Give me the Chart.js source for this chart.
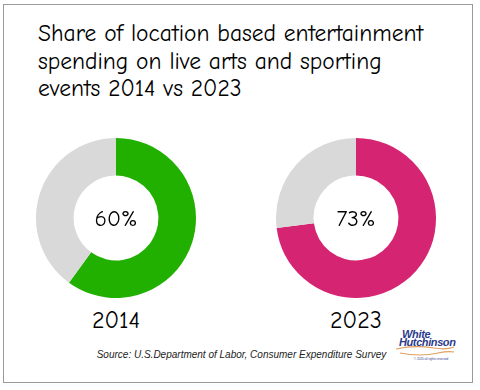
<!DOCTYPE html>
<html>
<head>
<meta charset="utf-8">
<script src="https://cdn.jsdelivr.net/npm/chart.js@4/dist/chart.umd.min.js"></script>
<style>
  html, body { margin: 0; padding: 0; background: #fff; }
  #wrap { position: relative; width: 480px; height: 390px; overflow: hidden; background: #fff; }
  #frame { position: absolute; left: 3px; top: 4px; width: 470px; height: 379px; border: 1.5px solid #9a9a9a; box-sizing: border-box; }
  .hand { font-family: "Comic Sans MS", "Comic Neue", "Lato", sans-serif; color: #000; font-weight: 500; }
  #title { position: absolute; left: 38px; top: 20px; font-size: 23.5px; line-height: 27.5px; white-space: nowrap; }
  .year { position: absolute; top: 306px; width: 160px; text-align: center; font-size: 24px; }
  canvas { position: absolute; }
  #source { position: absolute; left: 0; width: 483px; text-align: center; top: 349px; font-family: "Liberation Sans", Arial, sans-serif; font-style: italic; font-size: 10px; color: #222; }
  #logo { position: absolute; left: 394px; top: 329px; width: 64px; color: #2b3a8c; font-family: "Liberation Sans Narrow", "Liberation Sans", sans-serif; font-style: italic; font-weight: bold; }
  #logo .l1 { position: absolute; left: 8px; top: 0; font-size: 11px; line-height: 10px; letter-spacing: -0.3px; }
  #logo .l2 { position: absolute; left: 5px; top: 8px; font-size: 11px; line-height: 10px; letter-spacing: -0.4px; }
  #logo svg { position: absolute; left: 0; top: 14px; }
  #logo .l4 { position: absolute; left: 20px; top: 28px; font-family: "Liberation Sans", sans-serif; font-style: normal; font-weight: normal; font-size: 3px; color: #2b3a8c; line-height: 4px; white-space: nowrap; }
</style>
</head>
<body>
<div id="wrap">
  <div id="frame"></div>
  <div id="title" class="hand"></div>
  <canvas id="c1" width="160" height="160" style="left:36px; top:138px;"></canvas>
  <canvas id="c2" width="160" height="160" style="left:276px; top:138px;"></canvas>
  <div id="y1" class="year hand" style="left:36px;"></div>
  <div id="y2" class="year hand" style="left:276px;"></div>
  <div id="source"></div>
  <div id="logo">
    <div class="l1">White</div>
    <div class="l2">Hutchinson</div>
    <svg width="64" height="16" viewBox="0 0 64 16"><path d="M2 6 Q20 2 40 5 Q52 7 60 4" fill="none" stroke="#e0a060" stroke-width="1.2"/><path d="M6 10 Q26 14 44 10 Q54 8 60 9" fill="none" stroke="#e0a060" stroke-width="1.2"/></svg>
    <div class="l4">© 2025 all rights reserved</div>
  </div>
</div>
<script>
const titleLines = ["Share of location based entertainment", "spending on live arts and sporting", "events 2014 vs 2023"];
const years = ["2014", "2023"];
const segmentLabels = ["Live arts and sporting events", "Other location based entertainment"];
const share2014 = [60, 40];
const share2023 = [73, 27];
const centerLabels = ["60%", "73%"];
const sourceText = "Source: U.S.Department of Labor, Consumer Expenditure Survey";

document.getElementById('title').innerHTML = titleLines.join('<br>');
document.getElementById('y1').textContent = years[0];
document.getElementById('y2').textContent = years[1];
document.getElementById('source').textContent = sourceText;

const centerText = {
  id: 'centerText',
  afterDraw(chart, args, opts) {
    const ctx = chart.ctx;
    const meta = chart.getDatasetMeta(0).data[0];
    ctx.save();
    ctx.font = '500 23px "Comic Sans MS", "Comic Neue", "Lato", sans-serif';
    ctx.fillStyle = '#000';
    ctx.textAlign = 'center';
    ctx.textBaseline = 'middle';
    ctx.fillText(opts.text, meta.x, meta.y + 1);
    ctx.restore();
  }
};

function makeDonut(id, values, color, label) {
  return new Chart(document.getElementById(id), {
    type: 'doughnut',
    data: {
      labels: segmentLabels,
      datasets: [{ data: values, backgroundColor: [color, '#d9d9d9'], borderWidth: 0, hoverOffset: 0 }]
    },
    options: {
      responsive: false,
      animation: false,
      cutout: '53%',
      layout: { padding: 0 },
      plugins: { legend: { display: false }, tooltip: { enabled: false }, centerText: { text: label } },
      events: []
    },
    plugins: [centerText]
  });
}
makeDonut('c1', share2014, '#22b000', centerLabels[0]);
makeDonut('c2', share2023, '#d52472', centerLabels[1]);
</script>
</body>
</html>
